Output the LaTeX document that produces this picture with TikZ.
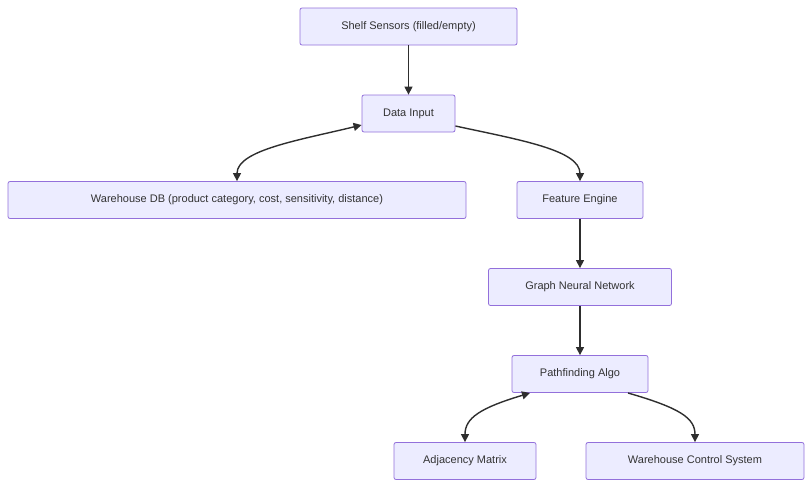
\documentclass[tikz,border=0pt]{standalone}
\usepackage{fontspec}
\setmainfont{Liberation Sans}
\usetikzlibrary{arrows.meta}
\definecolor{nfill}{HTML}{ECECFF}
\definecolor{nline}{HTML}{9370DB}
\definecolor{ntext}{HTML}{333333}
\begin{document}
\begin{tikzpicture}[x=1pt,y=-1pt,
  box/.style={draw=nline,fill=nfill,rounded corners=2pt,text=ntext,font=\fontsize{11}{13}\selectfont,minimum height=37pt,inner sep=0pt,line width=0.8pt},
  conn/.style={draw=ntext!90!black,line width=1.4pt,-{Triangle[length=8pt,width=8pt]}},
  bconn/.style={draw=ntext!90!black,line width=1.4pt,{Triangle[length=8pt,width=8pt]}-{Triangle[length=8pt,width=8pt]}}]
\useasboundingbox (0,0) rectangle (812,488);
\node[box,minimum width=217pt] (shelf) at (408.5,26.5) {Shelf Sensors (filled/empty)};
\node[box,minimum width=93pt] (din) at (408.5,113.5) {Data Input};
\node[box,minimum width=458pt] (db) at (237,200) {Warehouse DB (product category, cost, sensitivity, distance)};
\node[box,minimum width=126pt] (fe) at (580,200) {Feature Engine};
\node[box,minimum width=183pt] (gnn) at (580,287) {Graph Neural Network};
\node[box,minimum width=136pt] (pf) at (580,374) {Pathfinding Algo};
\node[box,minimum width=142pt] (adj) at (465,461) {Adjacency Matrix};
\node[box,minimum width=218pt] (wcs) at (695,461) {Warehouse Control System};
\draw[conn] (shelf) -- (din);
\draw[bconn] (din.south west |- 0,125) .. controls (300,140) and (237,150) .. (db.north -| 237,0);
\draw[conn] (din.east |- 0,126) .. controls (520,140) and (580,150) .. (fe.north);
\draw[conn] (fe) -- (gnn);
\draw[conn] (gnn) -- (pf);
\draw[bconn] (530,393) .. controls (480,408) and (465,418) .. (adj.north);
\draw[conn] (628,393) .. controls (680,408) and (695,418) .. (wcs.north);
\end{tikzpicture}
\end{document}
